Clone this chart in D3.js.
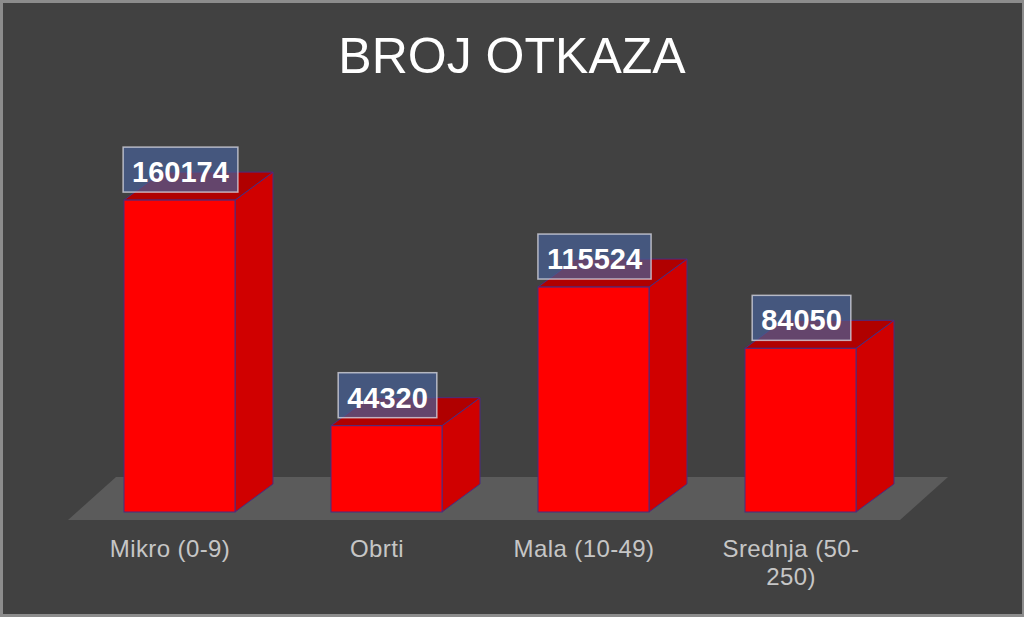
<!DOCTYPE html>
<html><head><meta charset="utf-8">
<script src="https://cdn.jsdelivr.net/npm/d3@7"></script>
<style>html,body{margin:0;padding:0;background:#8c8c8c;}svg{display:block;}</style>
</head><body>
<script>
const categories = ["Mikro (0-9)", "Obrti", "Mala (10-49)", "Srednja (50-250)"];
const categoryLines = [["Mikro (0-9)"], ["Obrti"], ["Mala (10-49)"], ["Srednja (50-", "250)"]];
const values = [160174, 44320, 115524, 84050];
const title = "BROJ OTKAZA";

const W = 1024, H = 617;
const svg = d3.select("body").append("svg").attr("width", W).attr("height", H);
svg.append("rect").attr("x",0).attr("y",0).attr("width",W).attr("height",H).attr("fill","#8c8c8c");
svg.append("rect").attr("x",3).attr("y",3).attr("width",W-5).attr("height",H-6).attr("fill","#414141");

const x = d3.scaleBand().domain(categories).range([66.5, 894.5]).paddingInner(0).paddingOuter(0);
const y = d3.scaleLinear().domain([0, 180000]).range([512, 161.5]);
const dx = 38, dy = -28;
const barOff = 57.5, barW = 111;

// floor
svg.append("path")
  .attr("d", `M68,520 L900,520 L948,477 L116,477 Z`)
  .attr("fill", "#5b5b5b");

const g = svg.append("g");
categories.forEach((c, i) => {
  const x0 = x(c) + barOff, x1 = x0 + barW;
  const yt = y(values[i]), yb = y(0);
  const bar = g.append("g");
  // side face
  bar.append("path")
    .attr("d", `M${x1},${yt} L${x1+dx},${yt+dy} L${x1+dx},${yb+dy} L${x1},${yb} Z`)
    .attr("fill", "#d00000").attr("stroke", "#4a2d80").attr("stroke-width", 1);
  // top face
  bar.append("path")
    .attr("d", `M${x0},${yt} L${x0+dx},${yt+dy} L${x1+dx},${yt+dy} L${x1},${yt} Z`)
    .attr("fill", "#b00000").attr("stroke", "#4a2d80").attr("stroke-width", 1);
  // front face
  bar.append("rect")
    .attr("x", x0).attr("y", yt).attr("width", barW).attr("height", yb - yt)
    .attr("fill", "#ff0000").attr("stroke", "#4a2d80").attr("stroke-width", 1);

  // data label
  const cx = x0 + barW/2 + 1;
  const txt = String(values[i]);
  const label = g.append("g");
  const t = label.append("text")
    .attr("x", cx).attr("y", yt - 18)
    .attr("text-anchor", "middle")
    .attr("font-family", "Liberation Sans, Arial, sans-serif")
    .attr("font-weight", "bold").attr("font-size", 29)
    .attr("fill", "#ffffff")
    .text(txt);
  const bw = t.node().getComputedTextLength() + 18;
  label.insert("rect", "text")
    .attr("x", cx - bw/2).attr("y", yt - 53).attr("width", bw).attr("height", 45)
    .attr("fill", "rgba(70,95,150,0.72)")
    .attr("stroke", "rgba(220,220,230,0.75)").attr("stroke-width", 1.5);

  // category label
  const ct = svg.append("text")
    .attr("x", x(c) + x.bandwidth()/2).attr("y", 557)
    .attr("text-anchor", "middle")
    .attr("font-family", "Liberation Sans, Arial, sans-serif")
    .attr("font-size", 24).attr("letter-spacing", 0.4).attr("fill", "#c6c6c6");
  categoryLines[i].forEach((ln, k) => {
    ct.append("tspan").attr("x", x(c) + x.bandwidth()/2).attr("dy", k === 0 ? 0 : 28).text(ln);
  });
});

svg.append("text")
  .attr("x", 512).attr("y", 73)
  .attr("text-anchor", "middle")
  .attr("font-family", "Liberation Sans, Arial, sans-serif")
  .attr("font-size", 50).attr("fill", "#ffffff")
  .text(title);
</script>
</body></html>
